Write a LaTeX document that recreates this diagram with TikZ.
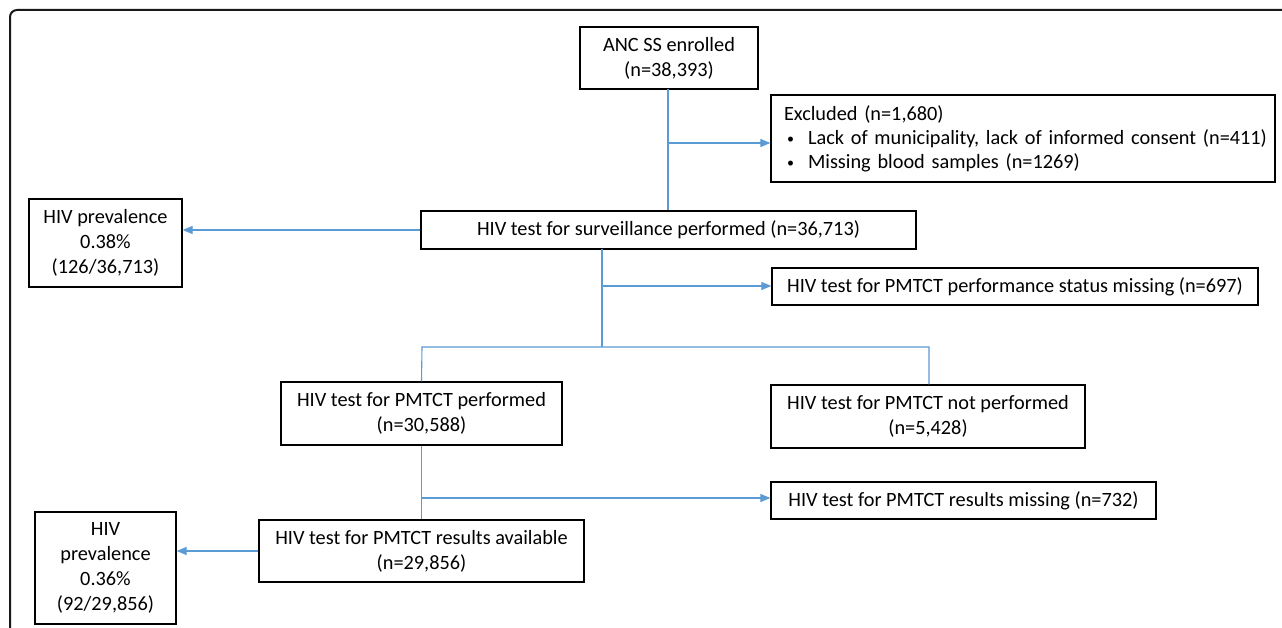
\documentclass[tikz,border=0pt]{standalone}
\usepackage{fontspec}
\setmainfont{Carlito}
\usetikzlibrary{arrows.meta}
\definecolor{conn}{HTML}{5B9BD5}
\newcommand{\mybul}{\makebox[24pt][l]{\hspace{3pt}\raisebox{1pt}{\fontsize{14}{14}\selectfont •}}}
\tikzset{
  box/.style={draw=black, line width=1.3pt, inner sep=0pt, align=center, font=\fontsize{20.3}{25}\selectfont},
  conline/.style={draw=conn, line width=1.1pt},
  arr/.style={conline, -{Triangle[length=10pt,width=8pt]}},
}
\begin{document}
\begin{tikzpicture}[x=1pt,y=-1pt]
\useasboundingbox (0,0) rectangle (1282,628);
\clip (0,0) rectangle (1282,628);
\fill[white] (0,0) rectangle (1282,628);
\draw[line width=2pt, color=black!90, rounded corners=7pt] (10,660) -- (10,10) -- (1300,10);

\node[box, minimum width=178pt, minimum height=62pt] (anc) at (669,58) {ANC SS enrolled\\(n=38,393)};
\node[box, minimum width=504pt, minimum height=87pt, text width=478pt, align=left, font=\fontsize{20.3}{24}\selectfont] (excl) at (1023,138.5)
  {\mbox{Excluded (n=1,680)}\\\mbox{\mybul Lack of municipality, lack of informed consent (n=411)}\\\mbox{\mybul Missing blood samples (n=1269)}};
\node[box, minimum width=495pt, minimum height=38pt] (surv) at (668.5,230) {HIV test for surveillance performed (n=36,713)};
\node[box, minimum width=153pt, minimum height=88pt] (prev1) at (105.5,243) {HIV prevalence\\0.38\%\\(126/36,713)};
\node[box, minimum width=486pt, minimum height=37pt] (permiss) at (1015,286.5) {HIV test for PMTCT performance status missing (n=697)};
\node[box, minimum width=281pt, minimum height=63pt] (perf) at (421.5,413.5) {HIV test for PMTCT performed\\(n=30,588)};
\node[box, minimum width=314pt, minimum height=63pt] (notperf) at (928,416.5) {HIV test for PMTCT not performed\\(n=5,428)};
\node[box, minimum width=385pt, minimum height=37pt] (resmiss) at (963.5,500.5) {HIV test for PMTCT results missing (n=732)};
\node[box, minimum width=325pt, minimum height=62pt] (resavail) at (421.5,551) {HIV test for PMTCT results available\\(n=29,856)};
\node[box, minimum width=141pt, minimum height=112pt] (prev2) at (105.5,568) {HIV\\prevalence\\0.36\%\\(92/29,856)};

% connectors
\coordinate (a1) at (668,89);
\coordinate (a2) at (668,143);
\draw[conline] (a1) -- (a1 |- surv.north);
\draw[arr] (a2) -- (a2 -| excl.west);

\draw[arr] (surv.west) -- (prev1.east |- surv.west);

\coordinate (s1) at (602,249);
\coordinate (s2) at (602,286);
\coordinate (s3) at (602,347);
\draw[conline] (s1) -- (s3);
\draw[arr] (s2) -- (s2 -| permiss.west);
\coordinate (b1) at (422,347);
\coordinate (b2) at (929,347);
\draw[conline] (perf.north) -- (b1) -- (b2) -- (b2 |- notperf.north);

\coordinate (p1) at (422,498);
\draw[conline] (perf.south) -- (resavail.north);
\draw[arr] (p1) -- (p1 -| resmiss.west);

\draw[arr] (resavail.west) -- (prev2.east |- resavail.west);
\end{tikzpicture}
\end{document}
